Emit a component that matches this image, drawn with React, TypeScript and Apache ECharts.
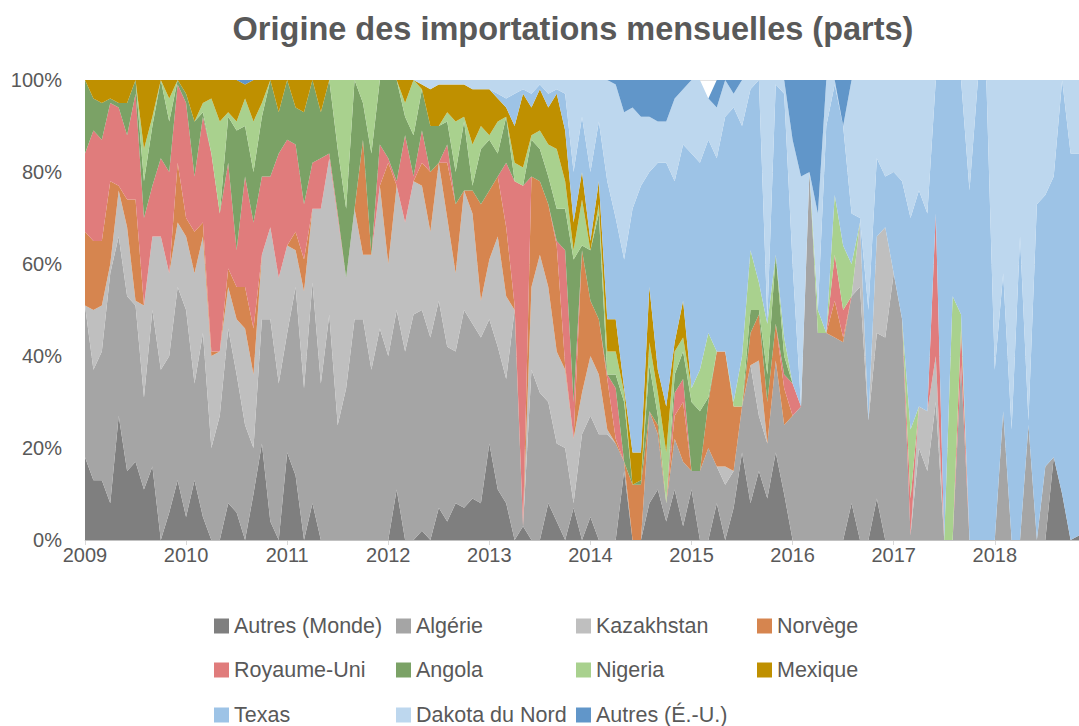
import React, { useEffect, useRef } from "react";
import * as echarts from "echarts";

const years = ["2009", "2010", "2011", "2012", "2013", "2014", "2015", "2016", "2017", "2018"];
const monthNums = ["01", "02", "03", "04", "05", "06", "07", "08", "09", "10", "11", "12"];
const categories = years.flatMap((y) => monthNums.map((m) => `${y}-${m}`)).slice(0, 119);

const seriesNames = [
  "Autres (Monde)", "Algérie", "Kazakhstan", "Norvège", "Royaume-Uni", "Angola",
  "Nigeria", "Mexique", "Texas", "Dakota du Nord", "Autres (É.-U.)",
];

const autresMonde = [
  18, 13, 13, 8, 27, 15, 17, 11, 16, 0, 6, 13,
  5, 13, 5, 0, 0, 8, 6, 0, 10, 21, 4, 0,
  19, 14, 0, 8, 0, 0, 0, 0, 0, 0, 0, 0,
  0, 11, 0, 0, 2, 0, 7, 4, 8, 7, 9, 8,
  21, 11, 8, 0, 3, 0, 0, 8, 4, 0, 7, 0,
  5, 0, 0, 0, 15, 0, 0, 8, 11, 4, 11, 3,
  11, 0, 0, 8, 0, 7, 19, 8, 15, 9, 19, 10,
  0, 0, 0, 0, 0, 0, 0, 8, 0, 0, 9, 0,
  0, 0, 0, 0, 0, 0, 0, 0, 0, 0, 0, 0,
  0, 0, 0, 0, 0, 0, 0, 18, 10, 0, 1,
];
const algerie = [
  33, 24, 28, 50, 39, 38, 34, 20, 34, 37, 34, 42,
  45, 21, 40, 20, 27, 38, 30, 25, 10, 27, 44, 34,
  26, 41, 33, 48, 34, 49, 25, 33, 48, 48, 37, 46,
  40, 39, 41, 49, 48, 44, 45, 38, 33, 43, 38, 36,
  27, 31, 27, 50, 0, 37, 32, 22, 17, 20, 1, 23,
  22, 23, 23, 21, 2, 0, 0, 20, 12, 4, 11, 14,
  4, 15, 20, 8, 12, 8, 10, 30, 12, 12, 20, 15,
  27, 29, 80, 45, 45, 44, 43, 45, 55, 26, 36, 44,
  58, 48, 1, 20, 15, 30, 0, 0, 38, 0, 0, 0,
  0, 28, 0, 0, 25, 0, 16, 0, 0, 0, 0,
];
const kazakhstan = [
  0, 13, 10, 2, 10, 15, 1, 20, 16, 29, 18, 14,
  16, 24, 21, 20, 14, 9, 12, 21, 16, 14, 20, 23,
  19, 8, 21, 16, 38, 34, 45, 24, 24, 14, 25, 31,
  20, 27, 28, 29, 27, 23, 30, 28, 17, 26, 24, 8,
  13, 24, 18, 0, 0, 18, 30, 25, 20, 17, 14, 9,
  13, 13, 1, 0, 0, 0, 0, 0, 0, 0, 0, 0,
  0, 0, 0, 0, 4, 0, 0, 0, 12, 0, 0, 0,
  0, 0, 0, 0, 0, 0, 0, 0, 14, 0, 21, 24,
  0, 0, 0, 9, 13, 10, 0, 0, 0, 0, 0, 0,
  0, 0, 0, 0, 0, 0, 0, 0, 0, 0, 0,
];
const norvege = [
  16, 15, 14, 18, 1, 6, 22, 0, 0, 0, 0, 13,
  4, 9, 3, 1, 0, 4, 7, 9, 10, 0, 0, 0,
  0, 4, 7, 0, 0, 0, 0, 0, 0, 25, 0, 0,
  22, 0, 0, 0, 5, 13, 0, 12, 15, 0, 5, 21,
  15, 13, 15, 1, 0, 24, 16, 18, 23, 1, 0, 31,
  12, 12, 11, 1, 0, 12, 12, 0, 2, 0, 5, 13,
  0, 0, 10, 25, 25, 14, 0, 7, 10, 9, 8, 8,
  0, 0, 0, 0, 0, 8, 1, 0, 0, 0, 0, 0,
  0, 0, 0, 0, 0, 0, 0, 0, 0, 0, 0, 0,
  0, 0, 0, 0, 0, 0, 0, 0, 0, 0, 0,
];
const royaumeUni = [
  17, 24, 22, 17, 17, 14, 23, 19, 11, 17, 22, 17,
  25, 12, 23, 43, 30, 23, 8, 24, 23, 17, 11, 27,
  23, 19, 12, 10, 11, 1, 1, 0, 0, 0, 0, 9,
  1, 1, 19, 1, 7, 0, 0, 4, 0, 0, 0, 0,
  0, 0, 14, 27, 74, 0, 0, 0, 1, 25, 8, 0,
  0, 0, 1, 11, 0, 0, 0, 0, 0, 0, 5, 5,
  0, 0, 0, 0, 0, 0, 0, 0, 0, 0, 0, 3,
  7, 0, 0, 0, 0, 10, 6, 0, 0, 0, 0, 0,
  0, 0, 8, 0, 0, 31, 0, 0, 8, 0, 0, 0,
  0, 0, 0, 0, 0, 0, 0, 0, 0, 0, 0,
];
const angola = [
  16, 7, 8, 1, 1, 7, 3, 8, 13, 17, 11, 1,
  2, 12, 1, 0, 0, 10, 26, 11, 11, 13, 21, 9,
  13, 8, 20, 18, 10, 16, 14, 15, 28, 8, 22, 14,
  17, 22, 4, 9, 9, 10, 8, 5, 7, 15, 1, 12,
  11, 5, 10, 0, 0, 8, 7, 6, 7, 9, 31, 1,
  11, 23, 0, 3, 13, 0, 1, 10, 2, 0, 4, 6,
  15, 13, 1, 0, 0, 0, 0, 5, 1, 6, 15, 4,
  0, 0, 0, 0, 0, 0, 0, 0, 0, 0, 0, 0,
  0, 0, 0, 0, 0, 0, 0, 0, 0, 0, 0, 0,
  0, 0, 0, 0, 0, 0, 0, 0, 0, 0, 0,
];
const nigeria = [
  0, 0, 0, 0, 0, 0, 0, 7, 2, 0, 5, 0,
  0, 0, 2, 12, 20, 1, 2, 6, 11, 3, 0, 0,
  0, 0, 0, 0, 0, 0, 15, 28, 0, 5, 16, 0,
  0, 0, 3, 12, 0, 0, 0, 2, 11, 1, 9, 5,
  1, 7, 0, 4, 4, 1, 4, 7, 13, 6, 2, 10,
  0, 2, 5, 5, 2, 0, 0, 5, 5, 11, 5, 3,
  3, 9, 14, 0, 0, 1, 11, 13, 6, 11, 0, 4,
  0, 0, 0, 5, 0, 13, 14, 7, 0, 0, 0, 0,
  0, 0, 15, 0, 0, 0, 0, 53, 3, 0, 0, 0,
  0, 0, 0, 0, 0, 0, 0, 0, 0, 0, 0,
];
const mexique = [
  0, 4, 5, 4, 5, 5, 0, 15, 8, 0, 4, 0,
  3, 9, 5, 4, 9, 7, 9, 3, 9, 5, 0, 7,
  0, 6, 7, 0, 7, 0, 0, 0, 0, 0, 0, 0,
  0, 0, 5, 0, 1, 8, 9, 6, 8, 7, 12, 8,
  10, 5, 2, 8, 16, 6, 9, 8, 12, 11, 6, 6,
  2, 5, 7, 7, 1, 7, 6, 12, 5, 10, 2, 8,
  0, 0, 0, 0, 0, 0, 0, 0, 0, 0, 0, 0,
  0, 0, 0, 0, 0, 0, 0, 0, 0, 0, 0, 0,
  0, 0, 0, 0, 0, 0, 0, 0, 0, 0, 0, 0,
  0, 0, 0, 0, 0, 0, 0, 0, 0, 0, 0,
];
const texas = [
  0, 0, 0, 0, 0, 0, 0, 0, 0, 0, 0, 0,
  0, 0, 0, 0, 0, 0, 0, 0, 0, 0, 0, 0,
  0, 0, 0, 0, 0, 0, 0, 0, 0, 0, 0, 0,
  0, 0, 0, 0, 0, 0, 0, 0, 0, 0, 0, 0,
  0, 1, 2, 7, 1, 3, 1, 3, 1, 8, 11, 12,
  15, 13, 30, 22, 28, 53, 58, 25, 45, 53, 35, 34,
  51, 45, 42, 42, 51, 64, 50, 35, 44, 1, 37, 53,
  26, 0, 0, 0, 45, 24, 26, 11, 1, 24, 17, 11,
  22, 30, 46, 47, 43, 29, 100, 47, 51, 76, 100, 100,
  37, 30, 24, 66, 1, 73, 59, 61, 90, 84, 83,
];
const dakotaDuNord = [
  0, 0, 0, 0, 0, 0, 0, 0, 0, 0, 0, 0,
  0, 0, 0, 0, 0, 0, 0, 0, 0, 0, 0, 0,
  0, 0, 0, 0, 0, 0, 0, 0, 0, 0, 0, 0,
  0, 0, 0, 0, 1, 2, 1, 1, 1, 1, 2, 2,
  2, 3, 4, 3, 2, 3, 1, 3, 2, 3, 20, 8,
  20, 9, 22, 29, 32, 22, 15, 12, 9, 9, 18, 12,
  16, 18, 9, 11, 8, 3, 10, 2, 0, 52, 1, 3,
  27, 50, 0, 21, 10, 1, 0, 29, 30, 50, 17, 21,
  20, 22, 30, 24, 29, 0, 0, 0, 0, 24, 0, 0,
  63, 42, 76, 34, 74, 27, 25, 21, 0, 16, 16,
];
const autresEU = [
  0, 0, 0, 0, 0, 0, 0, 0, 0, 0, 0, 0,
  0, 0, 0, 0, 0, 0, 0, 1, 0, 0, 0, 0,
  0, 0, 0, 0, 0, 0, 0, 0, 0, 0, 0, 0,
  0, 0, 0, 0, 0, 0, 0, 0, 0, 0, 0, 0,
  0, 0, 0, 0, 0, 0, 0, 0, 0, 0, 0, 0,
  0, 0, 0, 1, 7, 6, 8, 8, 9, 9, 4, 2,
  0, 0, 0, 6, 0, 3, 0, 0, 0, 0, 0, 0,
  13, 21, 20, 29, 0, 0, 10, 0, 0, 0, 0, 0,
  0, 0, 0, 0, 0, 0, 0, 0, 0, 0, 0, 0,
  0, 0, 0, 0, 0, 0, 0, 0, 0, 0, 0,
];

const seriesValues = [
  autresMonde, algerie, kazakhstan, norvege, royaumeUni, angola,
  nigeria, mexique, texas, dakotaDuNord, autresEU,
];

const colors = [
  "#7F7F7F", "#A5A5A5", "#BFBFBF", "#D6854F", "#E07C7C", "#7BA266",
  "#A9D18E", "#BF9000", "#9DC3E6", "#BDD7EE", "#6196C9",
];

// legend item anchor: [marker left x, row center y]
const legendSlots = [
  [214, 626], [396, 626], [576, 626], [757, 626],
  [214, 670], [396, 670], [576, 670], [757, 670],
  [214, 715], [396, 715], [576, 715],
];

const FONT = "'Liberation Sans', Arial, sans-serif";

export default function App() {
  const ref = useRef<HTMLDivElement>(null);

  useEffect(() => {
    if (!ref.current) return;
    const chart = echarts.init(ref.current, undefined, { renderer: "svg" });
    const yearTick = (i: number) => i % 12 === 0;

    chart.setOption({
      animation: false,
      backgroundColor: "#ffffff",
      title: {
        text: "Origine des importations mensuelles (parts)",
        left: 568,
        top: 7,
        textAlign: "center",
        textStyle: { fontFamily: FONT, fontWeight: "bold", fontSize: 32.5, color: "#595959" },
      },
      grid: { left: 85, right: -3, top: 80, bottom: 186, containLabel: false },
      xAxis: {
        type: "category",
        data: categories,
        boundaryGap: false,
        axisLine: { show: true, lineStyle: { color: "#D9D9D9", width: 1 } },
        axisTick: { show: true, interval: yearTick, length: 5, lineStyle: { color: "#D9D9D9" } },
        axisLabel: {
          interval: yearTick,
          formatter: (v: string) => v.slice(0, 4),
          color: "#595959",
          fontSize: 20,
          fontFamily: FONT,
          margin: 5,
        },
        splitLine: { show: false },
      },
      yAxis: {
        type: "value",
        min: 0,
        max: 100,
        interval: 20,
        z: 3,
        axisLine: { show: false },
        axisTick: { show: false },
        axisLabel: { formatter: "{value}%", color: "#595959", fontSize: 20, fontFamily: FONT, margin: 23 },
        splitLine: { show: true, lineStyle: { color: "rgba(0,0,0,0.11)", width: 1 } },
      },
      legend: seriesNames.map((name, k) => ({
        data: [name],
        left: legendSlots[k][0],
        top: legendSlots[k][1] - 11,
        icon: "rect",
        itemWidth: 15,
        itemHeight: 15,
        itemGap: 0,
        padding: 0,
        selectedMode: false,
        textStyle: { fontFamily: FONT, fontSize: 21.5, color: "#595959" },
      })),
      series: seriesNames.map((name, k) => ({
        name,
        type: "line",
        stack: "total",
        data: seriesValues[k],
        symbol: "none",
        showSymbol: false,
        lineStyle: { width: 0, color: colors[k] },
        itemStyle: { color: colors[k] },
        areaStyle: { color: colors[k], opacity: 1 },
        emphasis: { disabled: true },
      })),
    });

    return () => chart.dispose();
  }, []);

  return (
    <div
      ref={ref}
      style={{ position: "absolute", left: 0, top: 0, width: 1079, height: 726, background: "#fff" }}
    />
  );
}
